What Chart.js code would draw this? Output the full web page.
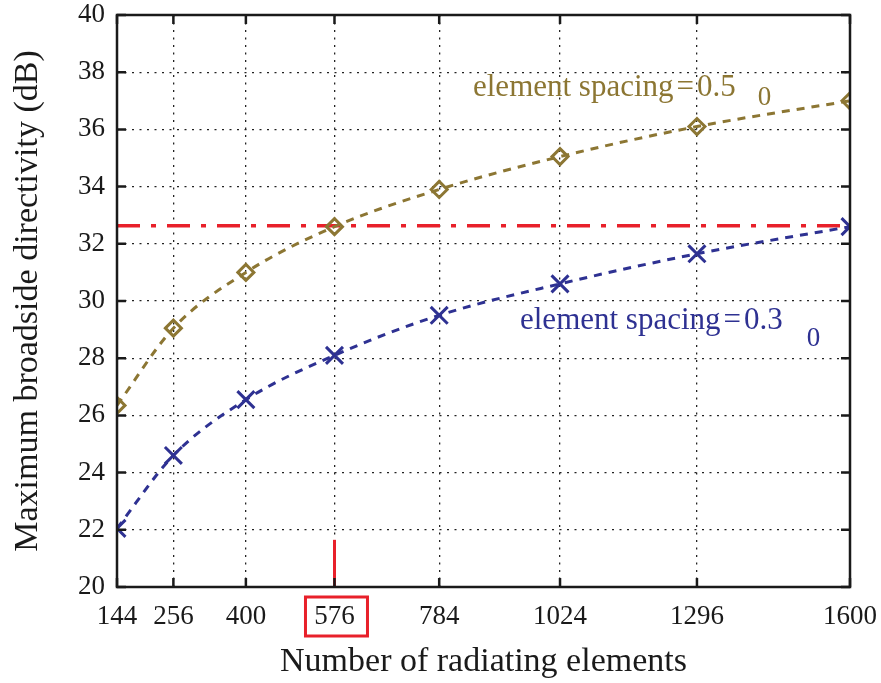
<!DOCTYPE html>
<html>
<head>
<meta charset="utf-8">
<script src="https://cdn.jsdelivr.net/npm/chart.js@4/dist/chart.umd.min.js"></script>
<style>
  html, body { margin:0; padding:0; background:#fff; }
  #wrap { width:881px; height:683px; position:relative; }
</style>
</head>
<body>
<div id="wrap"><canvas id="dirChart" width="881" height="683"></canvas></div>
<script>
// ---- Datos
const elements = [144, 256, 400, 576, 784, 1024, 1296, 1600];
const spacing05 = [26.35, 29.05, 31.0, 32.6, 33.9, 35.05, 36.1, 37.0];
const spacing03 = [22.05, 24.6, 26.55, 28.1, 29.5, 30.6, 31.65, 32.6];
const refLevel = 32.63;          // nivel de referencia (línea raya-punto)
const markElement = 576;         // elemento resaltado en rojo
const markTop = 21.65;
const yTicks = [20, 22, 24, 26, 28, 30, 32, 34, 36, 38, 40];

const GOLD = '#8c7633';
const BLUE = '#2e3192';
const RED = '#e8202a';
const INK = '#1a1a1a';
const FONT = '"Liberation Serif", "Times New Roman", serif';

const pts = (xs, ys) => xs.map((x, i) => ({ x, y: ys[i] }));

// texto por tramos: "element spacing", "=", valor y subíndice
function drawCurveLabel(ctx, x, y, value, color, subDx, subDy){
  ctx.fillStyle = color;
  ctx.font = '31px ' + FONT;
  ctx.fillText('element spacing', x, y);
  x += ctx.measureText('element spacing').width + 3;
  ctx.fillText('=', x, y);
  x += ctx.measureText('=').width + 3;
  ctx.fillText(value, x, y);
  x += ctx.measureText(value).width;
  ctx.font = '27px ' + FONT;
  ctx.fillText('0', x + subDx, y + subDy);
}

// ---- Marco, marcas interiores, recuadro y etiquetas
const framePlugin = {
  id: 'frame',
  afterDraw(chart){
    const { ctx, chartArea: a, scales: { x, y } } = chart;
    ctx.save();
    ctx.strokeStyle = INK;
    ctx.lineWidth = 2.5;
    ctx.strokeRect(a.left, a.top, a.right - a.left, a.bottom - a.top);
    const tl = 9;
    ctx.beginPath();
    elements.forEach(v => {
      const px = x.getPixelForValue(v);
      ctx.moveTo(px, a.bottom); ctx.lineTo(px, a.bottom - tl);
      ctx.moveTo(px, a.top); ctx.lineTo(px, a.top + tl);
    });
    yTicks.forEach(v => {
      const py = y.getPixelForValue(v);
      ctx.moveTo(a.left, py); ctx.lineTo(a.left + tl, py);
      ctx.moveTo(a.right, py); ctx.lineTo(a.right - tl, py);
    });
    ctx.stroke();

    // recuadro rojo sobre la etiqueta 576
    const mx = x.getPixelForValue(markElement);
    ctx.strokeStyle = RED;
    ctx.lineWidth = 3;
    ctx.strokeRect(mx - 29, a.bottom + 10, 62, 39);

    // etiquetas de las curvas
    ctx.textBaseline = 'alphabetic';
    drawCurveLabel(ctx, 473, 96, '0.5', GOLD, 22, 9);
    drawCurveLabel(ctx, 520, 329, '0.3', BLUE, 24, 17);
    ctx.restore();
  }
};

new Chart(document.getElementById('dirChart'), {
  type: 'line',
  data: {
    datasets: [
      {
        data: pts(elements, spacing03),
        borderColor: BLUE, backgroundColor: BLUE,
        borderWidth: 3, borderDash: [8, 7],
        pointStyle: 'crossRot', pointRadius: 12, pointBorderWidth: 3,
        pointBorderColor: BLUE,
        cubicInterpolationMode: 'monotone', order: 1
      },
      {
        data: pts(elements, spacing05),
        borderColor: GOLD, backgroundColor: '#fff',
        borderWidth: 3, borderDash: [8, 7],
        pointStyle: 'rectRot', pointRadius: 8, pointBorderWidth: 3,
        pointBorderColor: GOLD, pointBackgroundColor: 'rgba(255,255,255,0)',
        cubicInterpolationMode: 'monotone', order: 2
      },
      {
        data: [{ x: elements[0], y: refLevel }, { x: elements[elements.length - 1], y: refLevel }],
        borderColor: RED, borderWidth: 3.5, borderDash: [23, 11, 5, 11],
        pointRadius: 0, order: 3
      },
      {
        data: [{ x: markElement, y: 20 }, { x: markElement, y: markTop }],
        borderColor: RED, borderWidth: 3, pointRadius: 0, order: 3
      }
    ]
  },
  options: {
    responsive: false,
    animation: false,
    layout: { padding: { top: 14, right: 31, left: 0, bottom: 0 } },
    plugins: { legend: { display: false }, tooltip: { enabled: false } },
    scales: {
      x: {
        type: 'linear', min: 144, max: 1600,
        afterBuildTicks: s => { s.ticks = elements.map(v => ({ value: v })); },
        // altura fija y sin reservar hueco para la última etiqueta
        afterFit: s => { s.height = 96; s.paddingLeft = 0; s.paddingRight = 0; },
        grid: { color: '#222', lineWidth: 1.3, drawTicks: false },
        border: { display: false, dash: [2, 5.5] },
        ticks: { color: INK, font: { family: FONT, size: 27 }, padding: 14, maxRotation: 0,
                 autoSkip: false, callback: v => String(v) },
        title: { display: true, text: 'Number of radiating elements', color: INK,
                 font: { family: FONT, size: 34 }, padding: { top: 4, bottom: 1 } }
      },
      y: {
        min: 20, max: 40,
        afterBuildTicks: s => { s.ticks = yTicks.map(v => ({ value: v })); },
        afterFit: s => { s.width = 117; s.paddingTop = 0; s.paddingBottom = 0; },
        grid: { color: '#222', lineWidth: 1.3, drawTicks: false },
        border: { display: false, dash: [2, 5.5] },
        ticks: { color: INK, font: { family: FONT, size: 27 }, padding: 12, callback: v => String(v) },
        title: { display: true, text: 'Maximum broadside directivity (dB)', color: INK,
                 font: { family: FONT, size: 34 }, padding: { top: 8, bottom: 0 } }
      }
    }
  },
  plugins: [framePlugin]
});
</script>
</body>
</html>
